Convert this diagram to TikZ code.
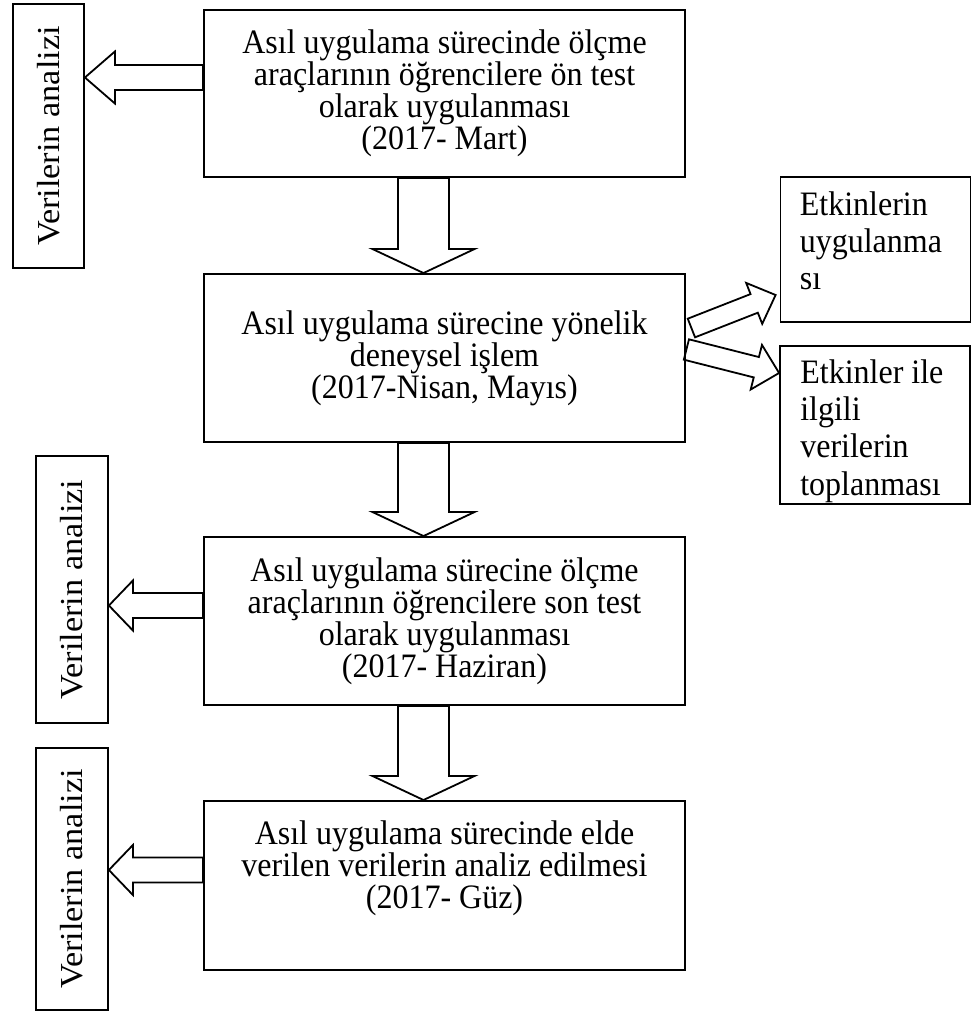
\documentclass[tikz,border=0pt]{standalone}
\usepackage{fontspec}
\setmainfont{Liberation Serif}
\usepackage{tikz}
\usetikzlibrary{calc,positioning}
\tikzset{
  mainbox/.style={draw, line width=1.8pt, yscale=1.07, minimum width=481pt, minimum height=157pt, align=center, font=\fontsize{32}{30}\selectfont},
  boxtxt/.style={yscale=1.07, align=center, font=\fontsize{32}{30}\selectfont},
  sidebox/.style={draw, line width=1.8pt, yscale=1.07, minimum width=72pt, inner sep=0pt, font=\fontsize{32}{32}\selectfont},
  notebox/.style={draw, line width=1.8pt, minimum width=190pt},
  notetxt/.style={yscale=1.07, inner sep=0pt, anchor=north west, align=left, font=\fontsize{32}{35}\selectfont},
  fatarr/.style={draw, line width=1.8pt, line join=miter}
}
% tail, tip, half shaft, half head, head length
\newcommand{\fatarrow}[5]{%
  \coordinate (fab) at ($(#2)!#5!(#1)$);
  \draw[fatarr] ($(#1)!#3!90:(#2)$) -- ($(fab)!#3!90:(#2)$) -- ($(fab)!#4!90:(#2)$) -- (#2)
    -- ($(fab)!#4!-90:(#2)$) -- ($(fab)!#3!-90:(#2)$) -- ($(#1)!#3!-90:(#2)$) -- cycle;
}

\begin{document}
\begin{tikzpicture}[x=1pt, y=-1pt]
  \useasboundingbox (0,0) rectangle (972,1014);

  % main steps
  \node[mainbox, minimum height=156pt] (b1) at (444.5,93.5) {Asıl uygulama sürecinde ölçme\\araçlarının öğrencilere ön test\\olarak uygulanması\\(2017- Mart)};
  \node[mainbox] (b2) at (444.5,358) {Asıl uygulama sürecine yönelik\\deneysel işlem\\(2017-Nisan, Mayıs)};
  \node[mainbox] (b3) at (444.5,621) {Asıl uygulama sürecine ölçme\\araçlarının öğrencilere son test\\olarak uygulanması\\(2017- Haziran)};
  \node[mainbox, minimum height=158pt] (b4) at (444.5,885.5) {};
  \node[boxtxt] (b4txt) at (444.5,868) {Asıl uygulama sürecinde elde\\verilen verilerin analiz edilmesi\\(2017- Güz)};

  % side boxes
  \node[sidebox, minimum width=71pt, minimum height=246.5pt] (v1) at (48.5,136) {\rotatebox{90}{Verilerin analizi}};
  \node[sidebox, minimum height=249.5pt] (v2) at (72,589.5) {\rotatebox{90}{Verilerin analizi}};
  \node[sidebox, minimum height=245pt] (v3) at (72,879) {\rotatebox{90}{Verilerin analizi}};
  \node[notebox, minimum height=145pt] (r1) at (875.5,249.5) {};
  \node[notebox, minimum height=158pt] (r2) at (875,425) {};
  \node[notetxt] (r1txt) at ($(r1.north west)+(20,15)$) {Etkinlerin\\uygulanma\\sı};
  \node[notetxt] (r2txt) at ($(r2.north west)+(21,14)$) {Etkinler ile\\ilgili\\verilerin\\toplanması};

  % down arrows
  \coordinate (d1a) at ($(b1.south)+(-21,0)$);
  \coordinate (d1b) at ($(b2.north)+(-21,0)$);
  \coordinate (d2a) at ($(b2.south)+(-21,0)$);
  \coordinate (d2b) at ($(b3.north)+(-21,0)$);
  \coordinate (d3a) at ($(b3.south)+(-21,0)$);
  \coordinate (d3b) at ($(b4.north)+(-21,0)$);
  \fatarrow{d1a}{d1b}{25.5pt}{51pt}{24pt}
  \fatarrow{d2a}{d2b}{25.5pt}{51pt}{24pt}
  \fatarrow{d3a}{d3b}{25.5pt}{51pt}{24pt}

  % left arrows
  \coordinate (l1a) at ($(b1.west)+(0,-16)$);
  \coordinate (l1b) at (v1.east |- l1a);
  \coordinate (l2a) at ($(b3.west)+(0,-15.5)$);
  \coordinate (l2b) at (v2.east |- l2a);
  \coordinate (l3a) at ($(b4.west)+(0,-15.5)$);
  \coordinate (l3b) at (v3.east |- l3a);
  \fatarrow{l1a}{l1b}{12.5pt}{26pt}{30pt}
  \fatarrow{l2a}{l2b}{12.5pt}{25pt}{24pt}
  \fatarrow{l3a}{l3b}{12.5pt}{25pt}{24pt}

  % right arrows
  \coordinate (e1a) at ($(b2.east)+(5.5,-30)$);
  \coordinate (e1b) at ($(r1.west)+(-4,45.5)$);
  \coordinate (e2a) at ($(b2.east)+(0.5,-8.5)$);
  \coordinate (e2b) at ($(r2.west)+(0,-52)$);
  \fatarrow{e1a}{e1b}{10pt}{22pt}{23pt}
  \fatarrow{e2a}{e2b}{10.5pt}{23pt}{23.5pt}
\end{tikzpicture}
\end{document}
